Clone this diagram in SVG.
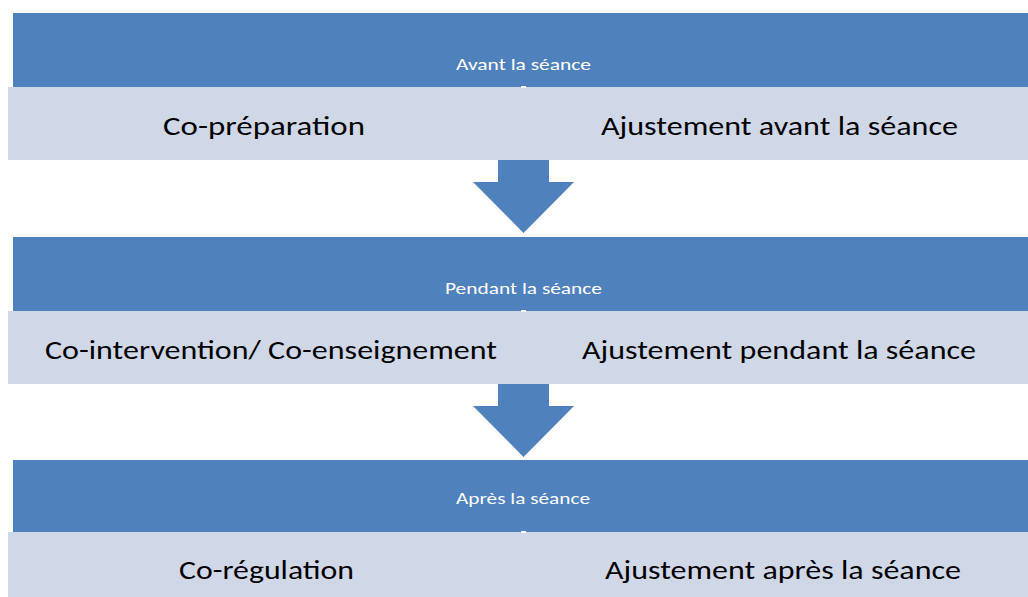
<svg xmlns="http://www.w3.org/2000/svg" width="1028" height="597" viewBox="0 0 1028 597">
<style>
.hdr{fill:#4F81BD}
.body{fill:#D0D8E8}
.arrow{fill:#4F81BD}
.small{font-family:"Carlito","Liberation Sans",sans-serif;font-size:16px;fill:#FFFFFF;text-anchor:middle}
.big{font-family:"Carlito","Liberation Sans",sans-serif;font-size:27px;fill:#000000;text-anchor:middle}
.tick{fill:#FFFFFF}
</style>
<rect width="1028" height="597" fill="#FFFFFF"/>
<g id="connectors">
<polygon class="arrow" points="498,160 549,160 549,182 574,182 523.5,233 473,182 498,182"/>
<polygon class="arrow" points="498,384 549,384 549,406 574,406 523.5,457 473,406 498,406"/>
</g>
<g id="stage1">
<rect class="hdr" x="13" y="13" width="1015" height="74"/>
<text class="small" x="523.5" y="70" textLength="135" lengthAdjust="spacingAndGlyphs">Avant la séance</text>
<rect class="body" x="8" y="87" width="1020" height="73"/>
<rect class="tick" x="521" y="86" width="5" height="2"/>
<text class="big" x="264" y="135" textLength="202" lengthAdjust="spacingAndGlyphs">Co-préparation</text>
<text class="big" x="779.5" y="135" textLength="357" lengthAdjust="spacingAndGlyphs">Ajustement avant la séance</text>
</g>
<g id="stage2">
<rect class="hdr" x="13" y="237" width="1015" height="74"/>
<text class="small" x="523.5" y="294" textLength="157" lengthAdjust="spacingAndGlyphs">Pendant la séance</text>
<rect class="body" x="8" y="311" width="1020" height="73"/>
<rect class="tick" x="521" y="310" width="5" height="2"/>
<text class="big" x="271" y="359" textLength="452" lengthAdjust="spacingAndGlyphs">Co-intervention/ Co-enseignement</text>
<text class="big" x="779" y="359" textLength="394" lengthAdjust="spacingAndGlyphs">Ajustement pendant la séance</text>
</g>
<g id="stage3">
<rect class="hdr" x="13" y="460" width="1015" height="72"/>
<text class="small" x="523" y="504" textLength="134" lengthAdjust="spacingAndGlyphs">Après la séance</text>
<rect class="body" x="8" y="532" width="1020" height="65"/>
<rect class="tick" x="521" y="531" width="5" height="2"/>
<text class="big" x="266.5" y="579" textLength="175" lengthAdjust="spacingAndGlyphs">Co-régulation</text>
<text class="big" x="783" y="579" textLength="356" lengthAdjust="spacingAndGlyphs">Ajustement après la séance</text>
</g>
</svg>
